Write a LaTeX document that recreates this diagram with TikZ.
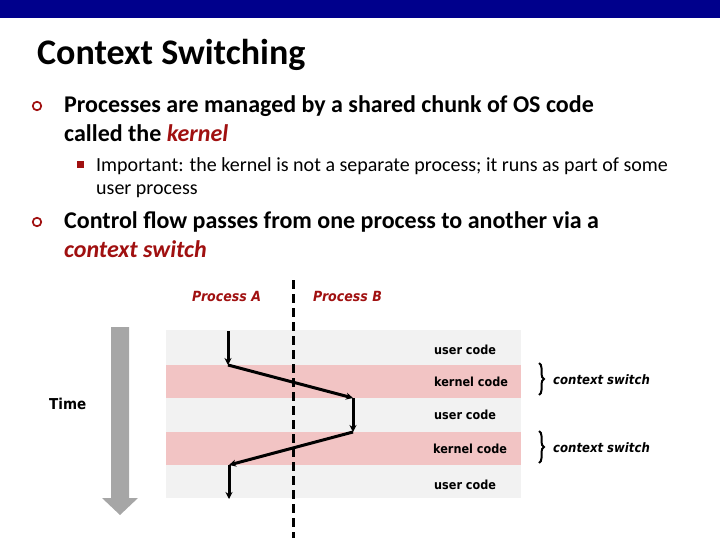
\documentclass[tikz,border=0pt]{standalone}
\usepackage{fontspec}
\setmainfont{Carlito}
\newfontfamily\diafont{DejaVu Sans Condensed}
\usetikzlibrary{arrows.meta,decorations.pathreplacing}
\definecolor{barblue}{RGB}{0,0,140}
\definecolor{dred}{RGB}{160,16,16}
\definecolor{bandgray}{RGB}{242,242,242}
\definecolor{bandpink}{RGB}{242,196,196}
\definecolor{timegray}{RGB}{166,166,166}
\tikzset{
  body/.style={anchor=base west,inner sep=0pt,font=\fontsize{24}{28}\selectfont\bfseries},
  subtext/.style={anchor=base west,inner sep=0pt,font=\fontsize{20}{24}\selectfont},
  bandlabel/.style={anchor=base west,inner sep=0pt,font=\diafont\fontsize{12.5}{14}\selectfont\bfseries},
  proclabel/.style={anchor=base west,inner sep=0pt,text=dred,font=\diafont\fontsize{14}{16}\selectfont\bfseries\itshape},
  cslabel/.style={anchor=base west,inner sep=0pt,font=\diafont\fontsize{13}{15}\selectfont\bfseries\itshape},
  flow/.style={line width=3pt,-{Stealth[length=7pt,width=7pt]}},
  bullet/.style={draw=dred,line width=1.7pt,circle,minimum size=8.5pt,inner sep=0pt},
  csbrace/.style={decorate,decoration={brace,amplitude=5pt},line width=2pt},
}
\begin{document}
\begin{tikzpicture}[x=1pt,y=-1pt]
\useasboundingbox (0,0) rectangle (720,540);
% top bar
\fill[barblue] (0,0) rectangle (720,18);
% title
\node[anchor=base west,inner sep=0pt,font=\fontsize{36}{40}\selectfont\bfseries] (title) at (37,65) {Context Switching};
% bullets
\node[bullet] (b1) at (37,106) {};
\node[body] (t1a) at (64,113) {Processes are managed by a shared chunk of OS code};
\node[body] (t1b) at (64,142) {called the \textcolor{dred}{\itshape kernel}};
\node[fill=dred,minimum size=7pt,inner sep=0pt] (sq) at (80,165) {};
\node[subtext] (t2a) at (96,172) {Important: the kernel is not a separate process; it runs as part of some};
\node[subtext] (t2b) at (96,195) {user process};
\node[bullet] (b2) at (37,222) {};
\node[body] (t3a) at (64,229) {Control flow passes from one process to another via a};
\node[body,text=dred] (t3b) at (64,258) {\itshape context switch};
% bands
\fill[bandgray] (166,330) rectangle (521,365);
\fill[bandpink] (166,365) rectangle (521,398);
\fill[bandgray] (166,398) rectangle (521,432);
\fill[bandpink] (166,432) rectangle (521,465);
\fill[bandgray] (166,465) rectangle (521,498);
\node[bandlabel] (u1) at (434,354) {user code};
\node[bandlabel] (k1) at (434,386) {kernel code};
\node[bandlabel] (u2) at (434,419) {user code};
\node[bandlabel] (k2) at (433,453) {kernel code};
\node[bandlabel] (u3) at (434,489) {user code};
% process labels
\node[proclabel] (pa) at (192,301) {Process A};
\node[proclabel] (pb) at (313,301) {Process B};
% dashed divider
\coordinate (dtop) at (293,280);
\coordinate (dbot) at (293,538);
\draw[line width=3pt,dash pattern=on 9pt off 5pt] (dtop) -- (dbot);
% flow
\coordinate (f0) at (228,331);
\coordinate (f1) at (228,365);
\coordinate (f2) at (353,398);
\coordinate (f3) at (353,432);
\coordinate (f4) at (229,465);
\coordinate (f5) at (229,499);
\draw[flow] (f0) -- (f1);
\draw[flow] (f1) -- (f2);
\draw[flow] (f2) -- (f3);
\draw[flow] (f3) -- (f4);
\draw[flow] (f4) -- (f5);
% braces
\coordinate (br1t) at (539,363);
\coordinate (br1b) at (539,395);
\coordinate (br2t) at (539,431);
\coordinate (br2b) at (539,463);
\draw[csbrace] (br1t) -- (br1b);
\draw[csbrace] (br2t) -- (br2b);
\node[cslabel] (cs1) at (553,384) {context switch};
\node[cslabel] (cs2) at (553,452) {context switch};
% time arrow
\fill[timegray] (111,327) -- (129,327) -- (129,498) -- (138,498) -- (120,515) -- (102,498) -- (111,498) -- cycle;
\node[anchor=base west,inner sep=0pt,font=\diafont\fontsize{15}{17}\selectfont\bfseries] (time) at (49,409) {Time};
\end{tikzpicture}
\end{document}
